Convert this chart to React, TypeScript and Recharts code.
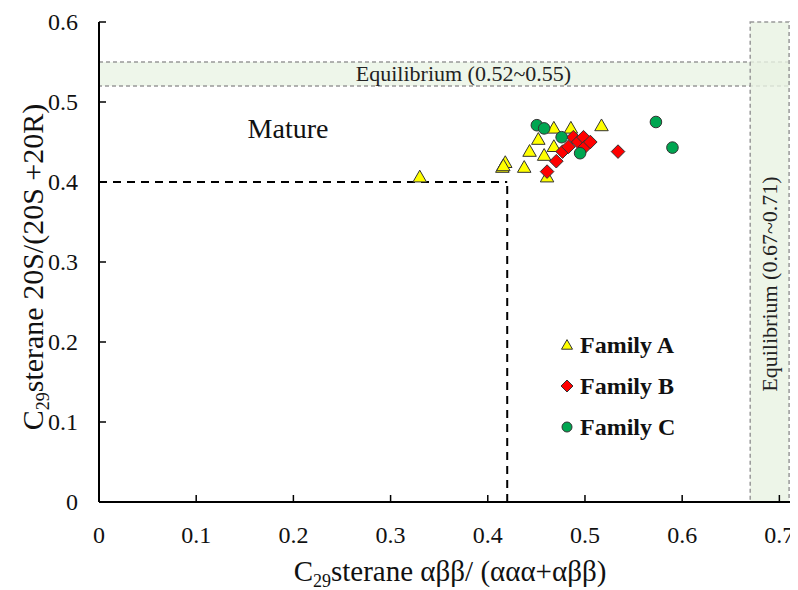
import {
  ScatterChart,
  Scatter,
  XAxis,
  YAxis,
  ReferenceArea,
  ReferenceLine,
} from "recharts";

const FONT = "Liberation Serif, Times New Roman, serif";

// C29 sterane αββ/(ααα+αββ) vs 20S/(20S+20R)
const familyAX = [0.33, 0.415, 0.418, 0.416, 0.4375, 0.443, 0.452, 0.458, 0.461, 0.468, 0.468, 0.4855, 0.517];
const familyAY = [0.405, 0.417, 0.423, 0.419, 0.417, 0.437, 0.452, 0.432, 0.405, 0.466, 0.443, 0.466, 0.469];

const familyBX = [0.461, 0.4705, 0.477, 0.483, 0.488, 0.493, 0.4985, 0.5, 0.5055, 0.534];
const familyBY = [0.413, 0.426, 0.438, 0.444, 0.456, 0.45, 0.456, 0.444, 0.45, 0.438];

const familyCX = [0.4505, 0.458, 0.476, 0.495, 0.573, 0.59];
const familyCY = [0.471, 0.467, 0.456, 0.436, 0.475, 0.443];

const xTicks = [0, 0.1, 0.2, 0.3, 0.4, 0.5, 0.6, 0.7];
const yTicks = [0, 0.1, 0.2, 0.3, 0.4, 0.5, 0.6];

const families = ["Family A", "Family B", "Family C"];

const toPoints = (xs: number[], ys: number[]) => xs.map((x, i) => ({ x, y: ys[i] }));

const COLORS = { A: "#FFFF00", B: "#FF0000", C: "#00A651" };

const Triangle = ({ cx, cy, s = 13.5 }: any) => {
  const h = s * 0.87;
  return (
    <polygon
      points={`${cx},${cy - (2 * h) / 3} ${cx - s / 2},${cy + h / 3} ${cx + s / 2},${cy + h / 3}`}
      fill={COLORS.A}
      stroke="#333"
      strokeWidth={1}
    />
  );
};

const Diamond = ({ cx, cy, s = 6.8 }: any) => (
  <polygon
    points={`${cx},${cy - s} ${cx + s},${cy} ${cx},${cy + s} ${cx - s},${cy}`}
    fill={COLORS.B}
    stroke="#333"
    strokeWidth={1}
  />
);

const Dot = ({ cx, cy, r = 5.8 }: any) => (
  <circle cx={cx} cy={cy} r={r} fill={COLORS.C} stroke="#333" strokeWidth={1} />
);

// serif tick labels
const XTick = ({ x, y, payload }: any) => (
  <text x={x} y={y} dy={17} textAnchor="middle" fontFamily={FONT} fontSize={24} fill="#111">
    {payload.value}
  </text>
);

const YTick = ({ x, y, payload }: any) => (
  <text x={x} y={y} dy={8} textAnchor="end" fontFamily={FONT} fontSize={24} fill="#111">
    {payload.value}
  </text>
);

const bandLabelH = ({ viewBox }: any) => (
  <text
    x={viewBox.x + viewBox.width / 2 + 18}
    y={viewBox.y + viewBox.height / 2 + 7}
    textAnchor="middle"
    fontFamily={FONT}
    fontSize={22}
    fill="#222"
  >
    Equilibrium (0.52~0.55)
  </text>
);

const bandLabelV = ({ viewBox }: any) => {
  const cx = viewBox.x + viewBox.width / 2 + 7;
  const cy = viewBox.y + viewBox.height / 2 + 22;
  return (
    <text
      x={cx}
      y={cy}
      textAnchor="middle"
      fontFamily={FONT}
      fontSize={22}
      fill="#222"
      transform={`rotate(-90 ${cx} ${cy})`}
    >
      Equilibrium (0.67~0.71)
    </text>
  );
};

export default function App() {
  return (
    <ScatterChart
      width={790}
      height={582}
      margin={{ top: 14, right: 6, bottom: 28, left: 31 }}
      style={{ background: "#fff", fontFamily: FONT }}
    >
      <ReferenceArea
        x1={0}
        x2={0.713}
        y1={0.52}
        y2={0.55}
        fill="#EEF6EA"
        fillOpacity={1}
        stroke="#999"
        strokeDasharray="4 3"
        strokeWidth={1.5}
        label={bandLabelH}
      />
      <ReferenceArea
        x1={0.67}
        x2={0.71}
        y1={0}
        y2={0.6}
        fill="#E8F2E2"
        fillOpacity={0.8}
        stroke="#999"
        strokeDasharray="4 3"
        strokeWidth={1.5}
        label={bandLabelV}
      />
      <ReferenceLine
        segment={[{ x: 0, y: 0.4 }, { x: 0.42, y: 0.4 }]}
        stroke="#000"
        strokeWidth={2}
        strokeDasharray="8 6"
      />
      <ReferenceLine
        segment={[{ x: 0.42, y: 0 }, { x: 0.42, y: 0.4 }]}
        stroke="#000"
        strokeWidth={2}
        strokeDasharray="8 6"
      />
      <XAxis
        type="number"
        dataKey="x"
        domain={[0, 0.713]}
        ticks={xTicks}
        allowDataOverflow
        height={60}
        axisLine={{ stroke: "#000", strokeWidth: 2 }}
        tickLine={{ stroke: "#000", strokeWidth: 1.5 }}
        tickSize={-7}
        tickMargin={31}
        tick={<XTick />}
      />
      <XAxis
        xAxisId="frame"
        orientation="top"
        type="number"
        domain={[0, 0.713]}
        height={0}
        tick={false}
        tickLine={false}
        axisLine={{ stroke: "#000", strokeWidth: 2 }}
      />
      <YAxis
        type="number"
        dataKey="y"
        domain={[0, 0.6]}
        ticks={yTicks}
        allowDataOverflow
        width={60}
        axisLine={{ stroke: "#000", strokeWidth: 2 }}
        tickLine={{ stroke: "#000", strokeWidth: 1.5 }}
        tickSize={-7}
        tickMargin={28}
        tick={<YTick />}
      />
      <YAxis
        yAxisId="frame"
        orientation="right"
        type="number"
        domain={[0, 0.6]}
        width={0}
        tick={false}
        tickLine={false}
        axisLine={{ stroke: "#bbb", strokeWidth: 1 }}
      />
      <Scatter
        name={families[0]}
        data={toPoints(familyAX, familyAY)}
        shape={(p: any) => <Triangle cx={p.cx} cy={p.cy} />}
        isAnimationActive={false}
      />
      <Scatter
        name={families[1]}
        data={toPoints(familyBX, familyBY)}
        shape={(p: any) => <Diamond cx={p.cx} cy={p.cy} />}
        isAnimationActive={false}
      />
      <Scatter
        name={families[2]}
        data={toPoints(familyCX, familyCY)}
        shape={(p: any) => <Dot cx={p.cx} cy={p.cy} />}
        isAnimationActive={false}
      />

      {/* legend */}
      <g fontFamily={FONT} fontSize={24} fontWeight="bold" fill="#111">
        <Triangle cx={559} cy={338} s={11} />
        <text x={572} y={345}>{families[0]}</text>
        <Diamond cx={559} cy={378} s={6} />
        <text x={572} y={386}>{families[1]}</text>
        <Dot cx={559} cy={419} r={5} />
        <text x={572} y={427}>{families[2]}</text>
      </g>

      <text x={280} y={130} textAnchor="middle" fontFamily={FONT} fontSize={28} fill="#111">
        Mature
      </text>

      {/* axis titles */}
      <text x={442} y={573} textAnchor="middle" fontFamily={FONT} fontSize={29} fill="#111">
        C<tspan fontSize={18} dy={6}>29</tspan>
        <tspan dy={-6}>sterane αββ/ (ααα+αββ)</tspan>
      </text>
      <text
        x={35}
        y={259}
        textAnchor="middle"
        fontFamily={FONT}
        fontSize={30}
        fill="#111"
        transform="rotate(-90 35 259)"
      >
        C<tspan fontSize={18} dy={6}>29</tspan>
        <tspan dy={-6}>sterane 20S/(20S +20R)</tspan>
      </text>
    </ScatterChart>
  );
}
